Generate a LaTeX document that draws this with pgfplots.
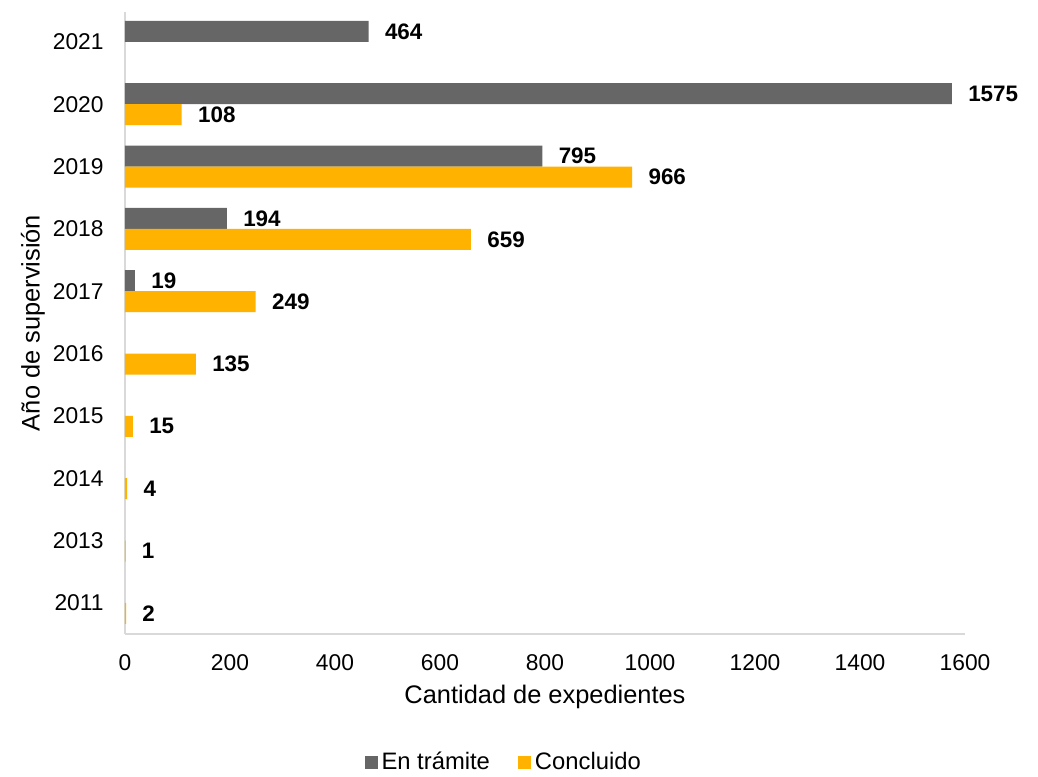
\documentclass[border=0pt]{standalone}
\usepackage{pgfplots}
\pgfplotsset{compat=1.18}
\usepackage{fontspec}
\setmainfont{Liberation Sans}
\definecolor{tramite}{HTML}{666666}
\definecolor{concluido}{HTML}{FFB300}
\definecolor{axisgray}{HTML}{D9D9D9}
\pgfplotsset{sq/.style={legend image code/.code={\fill[##1] (0pt,-3.25pt) rectangle (6.5pt,3.25pt);}}}
\begin{document}
\begin{tikzpicture}
\useasboundingbox (-62.5pt,-71pt) rectangle (456.5pt,317pt);
\begin{axis}[
  at={(0,0)}, anchor=south west,
  scale only axis, width=420pt, height=311pt,
  xbar, bar width=10.5pt,
  xmin=0, xmax=1600, ymin=-0.5, ymax=9.48,
  xtick={0,200,...,1600},
  ytick={0,...,9},
  yticklabels={2011,2013,2014,2015,2016,2017,2018,2019,2020,2021},
  axis x line*=bottom, axis y line*=left,
  axis line style={axisgray, line width=0.8pt, -},
  major tick length=0pt,
  tick label style={font=\fontsize{11.4}{13}\selectfont},
  xticklabel style={inner sep=0pt, anchor=north, yshift=-10pt},
  yticklabel style={inner sep=0pt, anchor=east, xshift=-10.5pt},
  /pgf/number format/assume math mode=true,
  /pgf/number format/1000 sep={},
  xlabel={Cantidad de expedientes},
  ylabel={Año de supervisión},
  every axis x label/.style={at={(axis description cs:0.5,0)}, yshift=-31.5pt, anchor=center, font=\fontsize{12.7}{15}\selectfont},
  every axis y label/.style={at={(axis description cs:0,0.5)}, xshift=-46pt, rotate=90, anchor=center, font=\fontsize{12.7}{15}\selectfont},
  point meta=x,
  nodes near coords,
  nodes near coords align=horizontal,
  every node near coord/.append style={font=\bfseries\fontsize{11.2}{13}\selectfont, anchor=west, inner sep=0pt, xshift=8pt, black},
  legend columns=2,
  legend style={at={(axis description cs:0.452,-0.2058)}, anchor=center, draw=none,
    font=\fontsize{11.9}{13}\selectfont,
    /tikz/every even column/.append style={column sep=12pt}},
]
\addplot[fill=tramite, draw=none, bar shift=5.25pt, sq] coordinates {
(464,9) (1575,8) (795,7) (194,6) (19,5)
};
\addplot[fill=concluido, draw=none, bar shift=-5.25pt, sq] coordinates {
(108,8) (966,7) (659,6) (249,5) (135,4) (15,3) (4,2) (1,1) (2,0)
};
\legend{En trámite, Concluido}
\end{axis}
\end{tikzpicture}
\end{document}
